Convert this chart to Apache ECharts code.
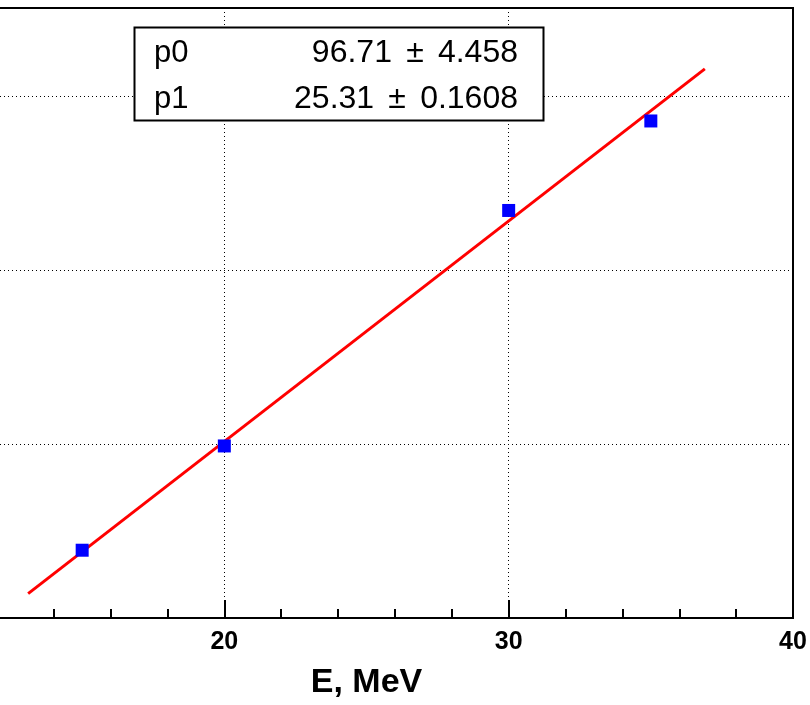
<!DOCTYPE html>
<html>
<head>
<meta charset="utf-8">
<script src="https://cdn.jsdelivr.net/npm/echarts@6/dist/echarts.min.js"></script>
<style>
html,body{margin:0;padding:0;background:#fff;overflow:hidden;width:810px;height:705px;position:relative;}
#chart{position:absolute;left:-77px;top:0;width:887px;height:705px;}
</style>
</head>
<body>
<div id="chart"></div>
<script>
// Measured data points (E in MeV, response)
const energies = [15, 20, 30, 35];
const responses = [478, 598, 869, 972];

// Fitted line endpoints
const fitX = [13.1, 36.9];
const fitY = [428, 1032];

// Fit parameters shown in the stats box
const paramNames = ['p0', 'p1'];
const paramValues = ['96.71', '25.31'];
const paramErrors = ['4.458', '0.1608'];

// Axis tick settings
const xTicks = [10, 20, 30, 40];
const yTicks = [400, 600, 800, 1000];

const FONT = '"Liberation Sans", Arial, Helvetica, sans-serif';
const OFFSET = 77; // chart div is shifted left so the frame's left edge falls outside the view

const chart = echarts.init(document.getElementById('chart'), null, {renderer: 'canvas'});

const pointData = energies.map((e, i) => [e, responses[i]]);
const fitData = fitX.map((x, i) => [x, fitY[i]]);

const dotted = {color: '#000', width: 1, type: [1, 3]};

const graphics = [{
  type: 'rect',
  shape: {x: 134.5 + OFFSET, y: 27.5, width: 409, height: 93},
  style: {fill: '#fff', stroke: '#000', lineWidth: 2},
  z: 100
}];
paramNames.forEach((n, i) => {
  const cy = 53 + i * 46;
  graphics.push({
    type: 'text', x: 154 + OFFSET, y: cy, z: 101,
    style: {text: n, font: '31px ' + FONT, fill: '#000', textAlign: 'left', textVerticalAlign: 'middle'}
  });
  graphics.push({
    type: 'text', x: 518 + OFFSET, y: cy, z: 101,
    style: {text: paramValues[i] + ' \u2006\u00B1\u2006 ' + paramErrors[i], font: '32px ' + FONT, fill: '#000', textAlign: 'right', textVerticalAlign: 'middle'}
  });
});

chart.setOption({
  animation: false,
  backgroundColor: '#fff',
  grid: {
    left: 17, right: 17, top: 8, bottom: 82,
    show: true, borderColor: '#000', borderWidth: 2, backgroundColor: 'transparent'
  },
  xAxis: {
    type: 'value',
    min: xTicks[0], max: xTicks[xTicks.length - 1], interval: 10,
    name: 'E, MeV',
    nameLocation: 'middle',
    nameGap: 48,
    nameTextStyle: {fontFamily: FONT, fontWeight: 'bold', fontSize: 34, color: '#000'},
    axisLine: {show: true, onZero: false, lineStyle: {color: '#000', width: 2}},
    axisTick: {show: true, inside: true, length: 18, lineStyle: {color: '#000', width: 2}},
    minorTick: {show: true, splitNumber: 5, length: 9, lineStyle: {color: '#000', width: 2}},
    axisLabel: {show: true, margin: 12, fontFamily: FONT, fontWeight: 'bold', fontSize: 25, color: '#000'},
    splitLine: {show: true, showMinLine: false, showMaxLine: false, lineStyle: dotted}
  },
  yAxis: {
    type: 'value',
    min: yTicks[0], max: 1102, interval: 200,
    axisLine: {show: false},
    axisTick: {show: false},
    axisLabel: {show: false},
    splitLine: {show: true, showMinLine: false, showMaxLine: false, lineStyle: dotted}
  },
  series: [
    {
      type: 'line',
      data: fitData,
      showSymbol: false,
      symbol: 'none',
      lineStyle: {color: '#ff0000', width: 3},
      z: 3
    },
    {
      type: 'scatter',
      data: pointData,
      symbol: 'rect',
      symbolSize: 13,
      itemStyle: {color: '#0000ff', opacity: 1},
      z: 4
    }
  ],
  graphic: graphics
});
</script>
</body>
</html>
